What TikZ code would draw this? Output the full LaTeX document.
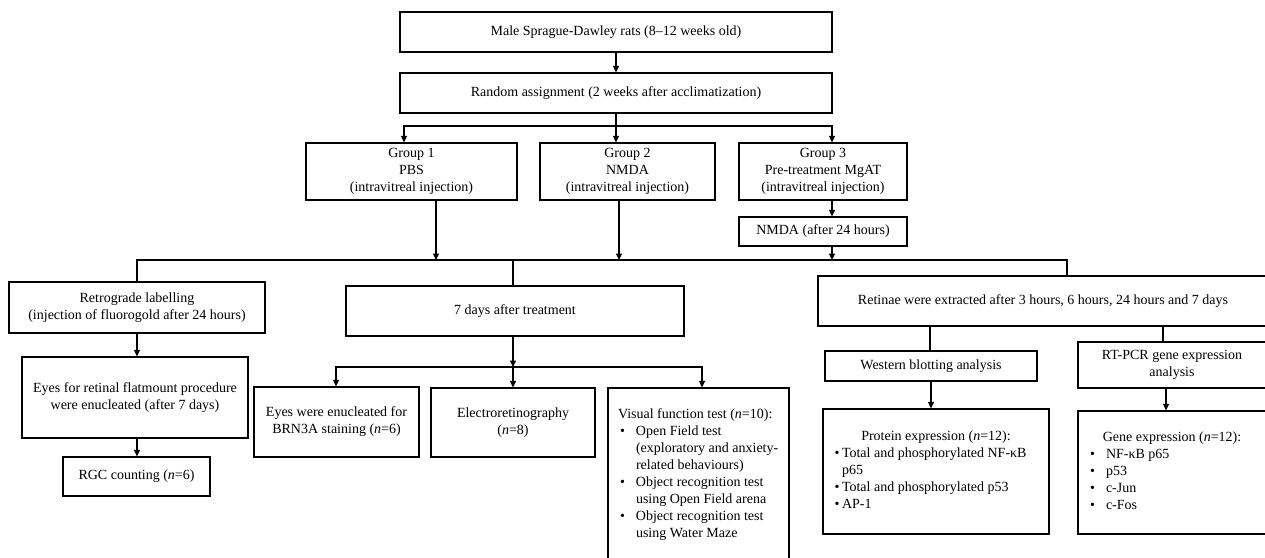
\documentclass[tikz,border=0pt]{standalone}
\usepackage{fontspec}
\setmainfont{Liberation Serif}
\usepackage{array}
\usetikzlibrary{arrows.meta,calc}

\begin{document}
\begin{tikzpicture}[x=1pt,y=-1pt,->,>={Triangle[length=6.5pt,width=6pt]},line width=1.1pt,
  box node/.style={rectangle,draw,line width=1.2pt,inner xsep=10pt,inner ysep=0pt,align=center,
    font=\fontsize{14}{17}\selectfont}]

\useasboundingbox (0,0) rectangle (1265,557);
\clip (0,0) rectangle (1265,557);

\node[box node,minimum width=432pt,minimum height=40pt](Rats) at (616,32) {Male Sprague-Dawley rats (8–12 weeks old)};
\node[box node,minimum width=432pt,minimum height=40pt](Rand) at (616,93) {Random assignment (2 weeks after acclimatization)};
\node[box node,minimum width=211pt,minimum height=57pt](G1) at (411.5,171.5) {Group 1\\PBS\\(intravitreal injection)};
\node[box node,minimum width=175pt,minimum height=57pt](G2) at (627.5,171.5) {Group 2\\NMDA\\(intravitreal injection)};
\node[box node,minimum width=168pt,minimum height=57pt](G3) at (823,171.5) {Group 3\\Pre-treatment MgAT\\(intravitreal injection)};
\node[box node,minimum width=168pt,minimum height=29pt](N3) at (823,231.5) {NMDA (after 24 hours)};
\node[box node,minimum width=256pt,minimum height=51pt](Retro) at (137,307.5) {Retrograde labelling\\(injection of fluorogold after 24 hours)};
\node[box node,minimum width=226pt,minimum height=81pt](Eyes) at (135,397.5) {Eyes for retinal flatmount procedure\\were enucleated (after 7 days)};
\node[box node,minimum width=147pt,minimum height=39pt](RGC) at (136.5,476.5) {RGC counting (\textit{n}=6)};
\node[box node,minimum width=338pt,minimum height=50pt](D7) at (515,311) {7 days after treatment};
\node[box node,minimum width=165pt,minimum height=70pt](BRN) at (336.5,422) {Eyes were enucleated for\\BRN3A staining (\textit{n}=6)};
\node[box node,minimum width=164pt,minimum height=69pt](ERG) at (513,422.5) {Electroretinography\\(\textit{n}=8)};
\node[box node,minimum width=181pt,minimum height=174pt](VFT) at (698.5,475) {%
  \begin{tabular}{@{}p{18pt}@{}p{143pt}@{}}
  \multicolumn{2}{@{}l@{}}{Visual function test (\textit{n}=10):}\\
  \hspace*{2pt}\textbullet & Open Field test\\
   & (exploratory and anxiety-\\
   & related behaviours)\\
  \hspace*{2pt}\textbullet & Object recognition test\\
   & using Open Field arena\\
  \hspace*{2pt}\textbullet & Object recognition test\\
   & using Water Maze
  \end{tabular}};
\node[box node,minimum width=450pt,minimum height=50pt](Ret) at (1043,301) {Retinae were extracted after 3 hours, 6 hours, 24 hours and 7 days};
\node[box node,minimum width=212pt,minimum height=30pt](WB) at (931,366) {Western blotting analysis};
\node[box node,minimum width=226pt,minimum height=125pt](PE) at (936,471.5) {%
  \begin{tabular}{@{}p{9pt}@{}p{197pt}@{}}
  \multicolumn{2}{@{}c@{}}{Protein expression (\textit{n}=12):}\\
  \hspace*{1.5pt}\textbullet & Total and phosphorylated NF-κB\\
   & p65\\
  \hspace*{1.5pt}\textbullet & Total and phosphorylated p53\\
  \hspace*{1.5pt}\textbullet & AP-1
  \end{tabular}};
\node[box node,minimum width=188pt,minimum height=46pt](PCR) at (1172,365) {RT-PCR gene expression\\analysis};
\node[box node,minimum width=188pt,minimum height=123pt](GE) at (1172,472.5) {%
  \begin{tabular}{@{}p{18pt}@{}p{150pt}@{}}
  \multicolumn{2}{@{}c@{}}{Gene expression (\textit{n}=12):}\\
  \hspace*{2pt}\textbullet & NF-κB p65\\
  \hspace*{2pt}\textbullet & p53\\
  \hspace*{2pt}\textbullet & c-Jun\\
  \hspace*{2pt}\textbullet & c-Fos
  \end{tabular}};

\coordinate (B1) at (404,126);
\coordinate (B3) at (832,126);
\coordinate (C0) at (137,260);
\coordinate (C1) at (436,260);
\coordinate (C2) at (619,260);
\coordinate (C3) at (832,260);
\coordinate (C4) at (513,260);
\coordinate (C5) at (1067,260);
\coordinate (D1) at (336,367);
\coordinate (D2) at (513,367);
\coordinate (D3) at (702,367);
\coordinate (E1) at (930,330);
\coordinate (E2) at (1163,330);
\coordinate (E3) at (1166,400);

\draw[-,line cap=rect] (B1) -- (B3);
\draw[-,line cap=rect] (C0) -- (C5);
\draw[-,line cap=rect] (D1) -- (D3);

\path
(Rats) edge (Rand)
(Rand.south) edge (G2.north -| Rand.south)
(B1) edge (G1.north -| B1)
(B3) edge (G3.north -| B3)
(G3.south -| B3) edge (N3.north -| B3)
(G1.south -| C1) edge (C1)
(G2.south -| C2) edge (C2)
(N3.south -| C3) edge (C3)
(Retro) edge (Eyes.north -| Retro)
(Eyes.south -| Retro) edge (RGC.north -| Retro)
(D7.south -| D2) edge (D2)
(D1) edge (BRN.north -| D1)
(D2) edge (ERG.north -| D2)
(D3) edge (VFT.north -| D3)
(WB) edge (PE.north -| WB)
(PCR.south -| E3) edge (GE.north -| E3);

\path[-]
(C0) edge (Retro)
(C4) edge (D7.north -| C4)
(C5) edge (Ret.north -| C5)
(Ret.south -| E1) edge (WB.north -| E1)
(Ret.south -| E2) edge (PCR.north -| E2);

\end{tikzpicture}
\end{document}
